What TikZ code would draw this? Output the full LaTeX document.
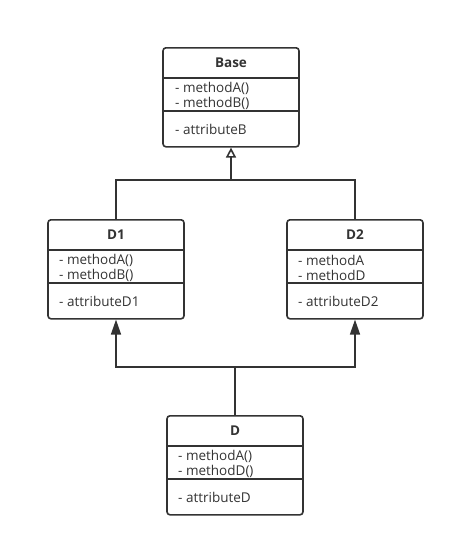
\documentclass[tikz,border=0pt]{standalone}
\usepackage{fontspec}
\setmainfont{Open Sans}
\usetikzlibrary{arrows.meta}
\definecolor{ink}{HTML}{333333}
\begin{document}
\begin{tikzpicture}[x=1pt,y=-1pt,
  classbox/.style={draw=ink,line width=1.6pt,rounded corners=3pt,minimum width=136pt,minimum height=99pt,inner sep=0pt,anchor=north},
  divider/.style={draw=ink,line width=1.4pt},
  title/.style={font=\fontsize{13.5}{14}\selectfont\bfseries,text=ink,inner sep=0pt},
  member/.style={font=\fontsize{13.5}{14}\selectfont,text=ink,inner sep=0pt,anchor=west},
  conn/.style={draw=ink,line width=1.6pt},
  hollow/.style={-{Triangle[open,length=10pt,width=10pt,line width=1.6pt]}},
  solid/.style={-{Triangle[length=15pt,width=10pt]}}]
\useasboundingbox (0,0) rectangle (454,546);
% Base
\node[classbox] (base) at (231,47) {};
\draw[divider] ([yshift=-31pt]base.north west) -- ([yshift=-31pt]base.north east);
\draw[divider] ([yshift=-64pt]base.north west) -- ([yshift=-64pt]base.north east);
\node[title] (baset) at (231,63) {Base};
\node[member] (basem1) at (175,88) {- methodA()};
\node[member] (basem2) at (175,103) {- methodB()};
\node[member] (basea) at (175,129) {- attributeB};
% D1
\node[classbox] (d1) at (116,219) {};
\draw[divider] ([yshift=-31pt]d1.north west) -- ([yshift=-31pt]d1.north east);
\draw[divider] ([yshift=-64pt]d1.north west) -- ([yshift=-64pt]d1.north east);
\node[title] (d1t) at (116,235) {D1};
\node[member] (d1m1) at (59,260) {- methodA()};
\node[member] (d1m2) at (59,275) {- methodB()};
\node[member] (d1a) at (59,301) {- attributeD1};
% D2
\node[classbox] (d2) at (355,219) {};
\draw[divider] ([yshift=-31pt]d2.north west) -- ([yshift=-31pt]d2.north east);
\draw[divider] ([yshift=-64pt]d2.north west) -- ([yshift=-64pt]d2.north east);
\node[title] (d2t) at (355,235) {D2};
\node[member] (d2m1) at (298,260) {- methodA};
\node[member] (d2m2) at (298,275) {- methodD};
\node[member] (d2a) at (298,301) {- attributeD2};
% D
\node[classbox] (d) at (235,415) {};
\draw[divider] ([yshift=-31pt]d.north west) -- ([yshift=-31pt]d.north east);
\draw[divider] ([yshift=-64pt]d.north west) -- ([yshift=-64pt]d.north east);
\node[title] (dt) at (235,431) {D};
\node[member] (dm1) at (178,456) {- methodA()};
\node[member] (dm2) at (178,471) {- methodD()};
\node[member] (da) at (178,497) {- attributeD};
% connectors
\coordinate (upj) at (231,180);
\coordinate (loj) at (235,367);
\draw[conn] (d1.north) |- (upj) -| (d2.north);
\draw[conn,hollow] (upj) -- (base.south);
\draw[conn,solid] (d.north) -- (loj) -| (d1.south);
\draw[conn,solid] (loj) -| (d2.south);
\end{tikzpicture}
\end{document}
